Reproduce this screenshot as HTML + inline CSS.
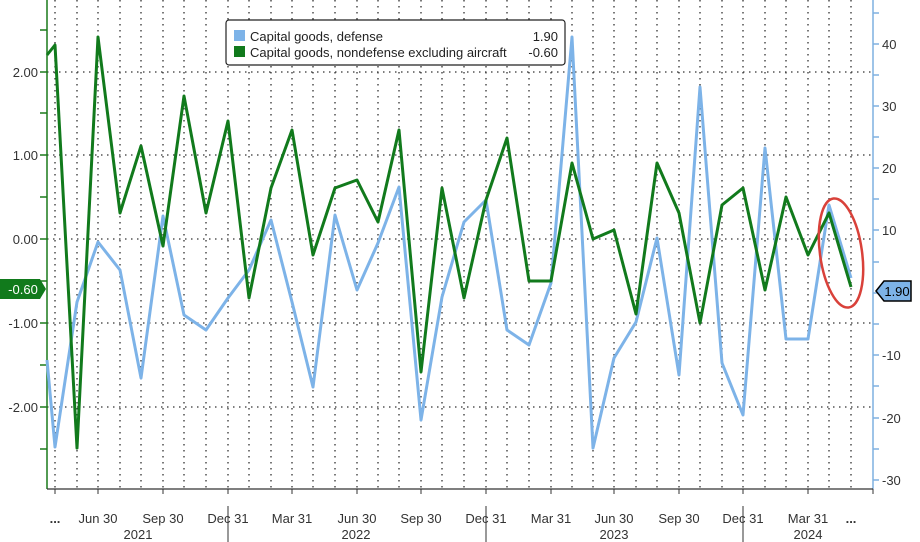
<!DOCTYPE html>
<html><head><meta charset="utf-8"><style>
html,body{margin:0;padding:0;background:#fff;}
svg{display:block;font-family:"Liberation Sans","DejaVu Sans",sans-serif;}
</style></head><body>
<svg width="920" height="542" viewBox="0 0 920 542" xmlns="http://www.w3.org/2000/svg">
<rect width="920" height="542" fill="#fff"/>
<g stroke="#333" stroke-width="1.3" stroke-dasharray="1.5,4.5">
<line x1="55" y1="0" x2="55" y2="489"/><line x1="77" y1="0" x2="77" y2="489"/><line x1="98" y1="0" x2="98" y2="489"/><line x1="120" y1="0" x2="120" y2="489"/><line x1="141" y1="0" x2="141" y2="489"/><line x1="163" y1="0" x2="163" y2="489"/><line x1="184" y1="0" x2="184" y2="489"/><line x1="206" y1="0" x2="206" y2="489"/><line x1="228" y1="0" x2="228" y2="489"/><line x1="249" y1="0" x2="249" y2="489"/><line x1="271" y1="0" x2="271" y2="489"/><line x1="292" y1="0" x2="292" y2="489"/><line x1="313" y1="0" x2="313" y2="489"/><line x1="335" y1="0" x2="335" y2="489"/><line x1="357" y1="0" x2="357" y2="489"/><line x1="378" y1="0" x2="378" y2="489"/><line x1="399" y1="0" x2="399" y2="489"/><line x1="421" y1="0" x2="421" y2="489"/><line x1="442" y1="0" x2="442" y2="489"/><line x1="464" y1="0" x2="464" y2="489"/><line x1="486" y1="0" x2="486" y2="489"/><line x1="507" y1="0" x2="507" y2="489"/><line x1="529" y1="0" x2="529" y2="489"/><line x1="551" y1="0" x2="551" y2="489"/><line x1="572" y1="0" x2="572" y2="489"/><line x1="593" y1="0" x2="593" y2="489"/><line x1="614" y1="0" x2="614" y2="489"/><line x1="636" y1="0" x2="636" y2="489"/><line x1="657" y1="0" x2="657" y2="489"/><line x1="679" y1="0" x2="679" y2="489"/><line x1="700" y1="0" x2="700" y2="489"/><line x1="722" y1="0" x2="722" y2="489"/><line x1="743" y1="0" x2="743" y2="489"/><line x1="765" y1="0" x2="765" y2="489"/><line x1="786" y1="0" x2="786" y2="489"/><line x1="808" y1="0" x2="808" y2="489"/><line x1="829" y1="0" x2="829" y2="489"/><line x1="851" y1="0" x2="851" y2="489"/>
<line x1="47" y1="72" x2="873" y2="72"/><line x1="47" y1="155" x2="873" y2="155"/><line x1="47" y1="239" x2="873" y2="239"/><line x1="47" y1="323" x2="873" y2="323"/><line x1="47" y1="407" x2="873" y2="407"/>
</g>
<!-- axes -->
<line x1="47" y1="0" x2="47" y2="489" stroke="#1a7a1a" stroke-width="1.5"/>
<line x1="873" y1="0" x2="873" y2="489" stroke="#7fb0e0" stroke-width="1.5"/>
<line x1="47" y1="489" x2="873" y2="489" stroke="#333" stroke-width="1.2"/>
<g stroke="#1a7a1a" stroke-width="1.5">
<line x1="40" y1="30" x2="47" y2="30"/><line x1="40" y1="72" x2="47" y2="72"/><line x1="40" y1="113" x2="47" y2="113"/><line x1="40" y1="155" x2="47" y2="155"/><line x1="40" y1="197" x2="47" y2="197"/><line x1="40" y1="239" x2="47" y2="239"/><line x1="40" y1="281" x2="47" y2="281"/><line x1="40" y1="323" x2="47" y2="323"/><line x1="40" y1="365" x2="47" y2="365"/><line x1="40" y1="407" x2="47" y2="407"/><line x1="40" y1="449" x2="47" y2="449"/>
</g>
<g stroke="#7fb0e0" stroke-width="1.5">
<line x1="873" y1="13" x2="879" y2="13"/><line x1="873" y1="44" x2="879" y2="44"/><line x1="873" y1="75" x2="879" y2="75"/><line x1="873" y1="106" x2="879" y2="106"/><line x1="873" y1="137" x2="879" y2="137"/><line x1="873" y1="168" x2="879" y2="168"/><line x1="873" y1="199" x2="879" y2="199"/><line x1="873" y1="230" x2="879" y2="230"/><line x1="873" y1="262" x2="879" y2="262"/><line x1="873" y1="293" x2="879" y2="293"/><line x1="873" y1="324" x2="879" y2="324"/><line x1="873" y1="355" x2="879" y2="355"/><line x1="873" y1="386" x2="879" y2="386"/><line x1="873" y1="418" x2="879" y2="418"/><line x1="873" y1="449" x2="879" y2="449"/><line x1="873" y1="480" x2="879" y2="480"/>
</g>
<g font-size="13" fill="#333" text-anchor="end">
<text x="38" y="77">2.00</text><text x="38" y="160">1.00</text><text x="38" y="244">0.00</text><text x="38" y="328">-1.00</text><text x="38" y="412">-2.00</text>
</g>
<g font-size="13" fill="#333">
<text x="882" y="49">40</text><text x="882" y="111">30</text><text x="882" y="173">20</text><text x="882" y="235">10</text><text x="882" y="298">0</text><text x="882" y="360">-10</text><text x="882" y="423">-20</text><text x="882" y="485">-30</text>
</g>
<g stroke="#333" stroke-width="1"><line x1="55" y1="489" x2="55" y2="494"/><line x1="98" y1="489" x2="98" y2="494"/><line x1="163" y1="489" x2="163" y2="494"/><line x1="228" y1="489" x2="228" y2="494"/><line x1="292" y1="489" x2="292" y2="494"/><line x1="357" y1="489" x2="357" y2="494"/><line x1="421" y1="489" x2="421" y2="494"/><line x1="486" y1="489" x2="486" y2="494"/><line x1="551" y1="489" x2="551" y2="494"/><line x1="614" y1="489" x2="614" y2="494"/><line x1="679" y1="489" x2="679" y2="494"/><line x1="743" y1="489" x2="743" y2="494"/><line x1="808" y1="489" x2="808" y2="494"/><line x1="873" y1="489" x2="873" y2="494"/>
<line x1="228" y1="506" x2="228" y2="542"/><line x1="486" y1="506" x2="486" y2="542"/><line x1="743" y1="506" x2="743" y2="542"/></g>
<g font-size="13" fill="#333" text-anchor="middle">
<text x="55" y="523" font-weight="bold">...</text><text x="98" y="523">Jun 30</text><text x="163" y="523">Sep 30</text><text x="228" y="523">Dec 31</text><text x="292" y="523">Mar 31</text><text x="357" y="523">Jun 30</text><text x="421" y="523">Sep 30</text><text x="486" y="523">Dec 31</text><text x="551" y="523">Mar 31</text><text x="614" y="523">Jun 30</text><text x="679" y="523">Sep 30</text><text x="743" y="523">Dec 31</text><text x="808" y="523">Mar 31</text><text x="851" y="523" font-weight="bold">...</text>
<text x="138" y="539">2021</text><text x="356" y="539">2022</text><text x="614" y="539">2023</text><text x="808" y="539">2024</text>
</g>
<!-- series -->
<polyline fill="none" stroke="#7db3e8" stroke-width="3" stroke-linejoin="round" points="47,360 55,447 77,302 98,242 120,270 141,378 163,216 184,315 206,330 228,298 249,270 271,220 292,302 313,387 335,215 357,290 378,243 399,187 421,420 442,297 464,222 486,200 507,330 529,345 551,283 572,37 593,448 614,358 636,322 657,238 679,375 700,87 722,363 743,415 765,148 786,339 808,339 829,205 851,278"/>
<polyline fill="none" stroke="#117a1c" stroke-width="3" stroke-linejoin="round" points="47,55 55,45 77,448 98,37 120,213 141,146 163,246 184,96 206,213 228,121 249,298 271,188 292,130 313,255 335,188 357,180 378,222 399,130 421,372 442,188 464,298 486,200 507,138 529,281 551,281 572,163 593,239 614,230 636,314 657,163 679,213 700,323 722,205 743,188 765,290 786,197 808,255 829,213 851,287"/>
<ellipse cx="841" cy="253" rx="21" ry="55" transform="rotate(-8 841 253)" fill="none" stroke="#d9413a" stroke-width="2.5"/>
<!-- legend -->
<rect x="226" y="20" width="339" height="45" rx="3" fill="#fff" stroke="#222" stroke-width="1.2"/>
<rect x="234" y="30" width="11" height="11" fill="#7db3e8"/>
<rect x="234" y="46" width="11" height="11" fill="#117a1c"/>
<g font-size="13" fill="#222"><text x="250" y="41">Capital goods, defense</text><text x="250" y="57">Capital goods, nondefense excluding aircraft</text>
<text x="558" y="41" text-anchor="end">1.90</text><text x="558" y="57" text-anchor="end">-0.60</text></g>
<!-- value tags -->
<path d="M0,279 H40 L46,289 L40,299 H0 Z" fill="#117a1c"/>
<text x="23" y="294" font-size="13" fill="#fff" text-anchor="middle">-0.60</text>
<path d="M876,291 L884,281 H911 V301 H884 Z" fill="#7db3e8" stroke="#000" stroke-width="1.5"/>
<text x="897" y="296" font-size="13" fill="#000" text-anchor="middle">1.90</text>
</svg>
</body></html>
